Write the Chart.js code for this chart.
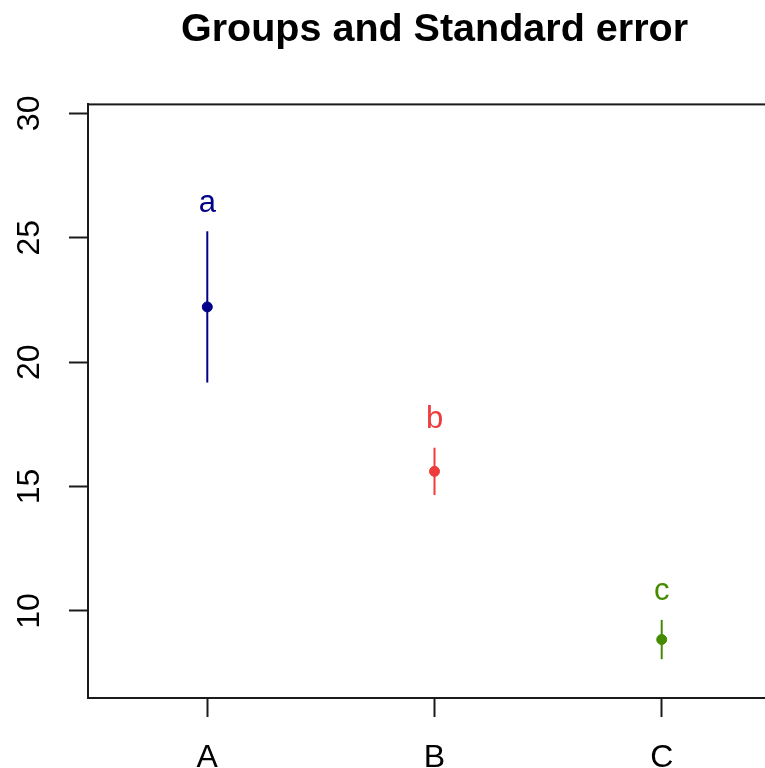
<!DOCTYPE html>
<html>
<head>
<meta charset="utf-8">
<script src="https://cdn.jsdelivr.net/npm/chart.js@4/dist/chart.umd.min.js"></script>
<style>
  html, body { margin: 0; padding: 0; background: #ffffff; overflow: hidden; }
  #wrap { width: 800px; height: 768px; }
</style>
</head>
<body>
<div id="wrap"><canvas id="chart" width="800" height="768"></canvas></div>
<script>
// Group means with their standard errors
const groups = ['A', 'B', 'C'];
const groupPos = [1, 2, 3];
const means = [22.22, 15.61, 8.85];
const stdErrors = [3.04, 0.95, 0.79];
const letters = ['a', 'b', 'c'];
const colors = ['#00008B', '#EE3B3B', '#458B00'];
const yTicks = [10, 15, 20, 25, 30];

const FONT = "'Liberation Sans', Arial, sans-serif";
const AXIS_COLOR = '#1a1a1a';

// Vertical standard-error bars, the frame and the significance letters
const errorBars = {
  id: 'errorBars',
  afterDatasetsDraw(chart) {
    const { ctx, scales: { x, y }, chartArea } = chart;
    ctx.save();
    // plot frame
    ctx.strokeStyle = AXIS_COLOR;
    ctx.lineWidth = 2;
    ctx.strokeRect(chartArea.left, chartArea.top, chartArea.right - chartArea.left, chartArea.bottom - chartArea.top);
    ctx.lineWidth = 2;
    means.forEach((m, i) => {
      const px = x.getPixelForValue(groupPos[i]);
      const yHi = y.getPixelForValue(m + stdErrors[i]);
      const yLo = y.getPixelForValue(m - stdErrors[i]);
      ctx.strokeStyle = colors[i];
      ctx.beginPath();
      ctx.moveTo(px, yHi);
      ctx.lineTo(px, yLo);
      ctx.stroke();
      ctx.fillStyle = colors[i];
      ctx.font = '31px ' + FONT;
      ctx.textAlign = 'center';
      ctx.textBaseline = 'middle';
      ctx.fillText(letters[i], px, yHi - 28);
    });
    ctx.restore();
  }
};

new Chart(document.getElementById('chart'), {
  type: 'scatter',
  data: {
    datasets: [{
      data: groupPos.map((g, i) => ({ x: g, y: means[i] })),
      pointBackgroundColor: colors,
      pointBorderColor: colors,
      pointRadius: 5,
      pointHoverRadius: 5,
      showLine: false
    }]
  },
  options: {
    responsive: false,
    animation: false,
    events: [],
    layout: { padding: { left: 0, right: 19, top: 0, bottom: 0 } },
    plugins: {
      legend: { display: false },
      tooltip: { enabled: false },
      title: {
        display: true,
        fullSize: false,
        text: 'Groups and Standard error',
        color: '#000000',
        font: { family: FONT, size: 39.5, weight: 'bold' },
        padding: { top: 6, bottom: 51 }
      }
    },
    scales: {
      x: {
        type: 'linear',
        min: 0.475,
        max: 3.525,
        afterBuildTicks(scale) { scale.ticks = groupPos.map(v => ({ value: v })); },
        afterFit(scale) { scale.height = 70; },
        ticks: {
          callback: (v) => groups[groupPos.indexOf(v)] ?? '',
          color: '#000000',
          font: { family: FONT, size: 32 },
          padding: 22,
          maxRotation: 0,
          minRotation: 0
        },
        grid: { drawOnChartArea: false, drawTicks: true, tickLength: 19, tickWidth: 2, tickColor: AXIS_COLOR, color: AXIS_COLOR },
        border: { display: true, color: AXIS_COLOR, width: 2 }
      },
      y: {
        type: 'linear',
        min: 6.5,
        max: 30.36,
        afterBuildTicks(scale) { scale.ticks = yTicks.map(v => ({ value: v })); },
        afterFit(scale) { scale.width = 88; },
        ticks: {
          color: '#000000',
          font: { family: FONT, size: 32 },
          minRotation: 90,
          maxRotation: 90,
          crossAlign: 'center',
          padding: 21
        },
        grid: { drawOnChartArea: false, drawTicks: true, tickLength: 19, tickWidth: 2, tickColor: AXIS_COLOR, color: AXIS_COLOR },
        border: { display: true, color: AXIS_COLOR, width: 2 }
      }
    }
  },
  plugins: [errorBars]
});
</script>
</body>
</html>
